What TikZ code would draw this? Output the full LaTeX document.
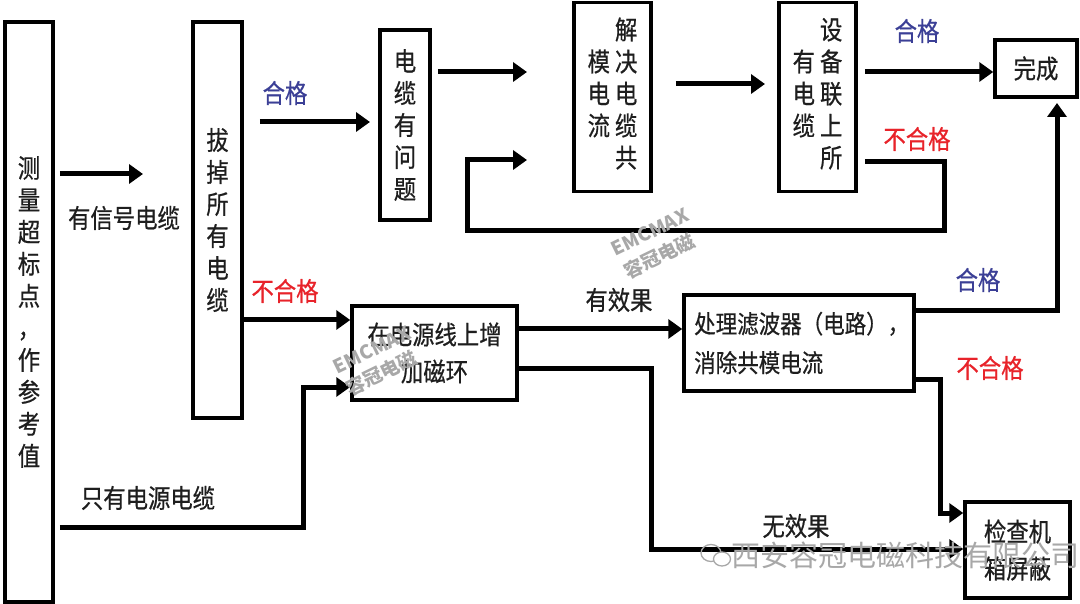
\documentclass[tikz,border=0pt]{standalone}
\usepackage{fontspec}
\newfontfamily\cjk[FakeStretch=0.86,FakeBold=0.6]{Noto Sans CJK SC}
\newfontfamily\cjkwm{Noto Sans CJK SC}
\usetikzlibrary{arrows.meta}
\definecolor{okblue}{HTML}{3B3F96}
\definecolor{badred}{HTML}{E8232A}
\definecolor{ink}{HTML}{1E1E1E}
\definecolor{wm}{HTML}{A8A8A8}
\tikzset{
  box/.style={draw=black, line width=3.5pt, inner sep=0pt, text=ink, align=center,
    font=\cjk\fontsize{26}{32}\selectfont},
  flow/.style={line width=5pt, draw=black, -{Triangle[length=14pt,width=19pt]}},
  lbl/.style={inner sep=0pt, text=ink, font=\cjk\fontsize{26}{30}\selectfont},
  ok/.style={lbl, text=okblue},
  bad/.style={lbl, text=badred},
  wmark/.style={inner sep=0pt, text=wm, font=\cjkwm\bfseries\fontsize{19}{21}\selectfont, rotate=26},
}
\begin{document}
\begin{tikzpicture}[x=1pt,y=-1pt]
\useasboundingbox[fill=white] (0,0) rectangle (1080,604);

% boxes
\node[box, minimum width=48pt, minimum height=580pt] (A) at (29,312)
  {测\\量\\超\\标\\点\\，\\作\\参\\考\\值};
\node[box, minimum width=49pt, minimum height=396pt] (B) at (217.5,220)
  {拔\\掉\\所\\有\\电\\缆};
\node[box, minimum width=50pt, minimum height=190pt] (C) at (405,125)
  {电\\缆\\有\\问\\题};
\node[box, minimum width=77pt, minimum height=189pt] (D) at (612.5,97)
  {\begin{tabular}{@{}c@{\hspace{5pt}}c@{}} & 解\\ 模 & 决\\ 电 & 电\\ 流 & 缆\\ & 共\end{tabular}};
\node[box, minimum width=77pt, minimum height=189pt] (E) at (817.5,97)
  {\begin{tabular}{@{}c@{\hspace{5pt}}c@{}} & 设\\ 有 & 备\\ 电 & 联\\ 缆 & 上\\ & 所\end{tabular}};
\node[box, minimum width=82pt, minimum height=57pt, font=\cjk\fontsize{26}{30}\selectfont] (F) at (1036,68.5) {完成};
\node[box, minimum width=165pt, minimum height=94pt, font=\cjk\fontsize{26}{37}\selectfont] (G) at (434.5,353)
  {在电源线上增\\加磁环};
\node[box, minimum width=230pt, minimum height=96pt] (H) at (799,343) {};
\node[inner sep=0pt, anchor=west, align=left, text=ink, font=\cjk\fontsize{25}{39}\selectfont] (Ht) at (694,343)
  {处理滤波器（电路），\\消除共模电流};
\node[box, minimum width=105pt, minimum height=96pt, font=\cjk\fontsize{26}{37}\selectfont] (I) at (1017.5,550)
  {检查机\\箱屏蔽};

% connectors
\draw[flow] (A.east |- 0,174) ++(5,0) -- (143,174);
\draw[flow] (B.east |- 0,122) ++(16,0) -- (370,122);
\draw[flow] (C.east |- 0,72) ++(6,0) -- (527,72);
\draw[flow] (D.east |- 0,84) ++(23,0) -- (765,84);
\draw[flow] (E.east |- 0,72) ++(7,0) -- (F.west |- 0,72);
\draw[flow] (E.east |- 0,162) ++(7,0) -- (944,162) -- (944,231) -- (467,231) -- (467,160) -- (527,160);
\draw[flow] (B.east |- 0,320) -- (G.west |- 0,320);
\draw[flow] (A.east |- 0,527) ++(5,0) -- (303,527) -- (303,387) -- (G.west |- 0,387);
\draw[flow] (G.east |- 0,329) -- (H.west |- 0,329);
\draw[flow] (G.east |- 0,368) -- (651,368) -- (651,549) -- (I.west |- 0,549);
\draw[flow] (H.east |- 0,311) -- (1057,311) -- (1057,103);
\draw[flow] (H.east |- 0,379) -- (940,379) -- (940,513) -- (I.west |- 0,513);

% labels
\node[lbl] (l1) at (124,218) {有信号电缆};
\node[ok]  (l2) at (285,93) {合格};
\node[ok]  (l3) at (917,31) {合格};
\node[bad] (l4) at (917,139) {不合格};
\node[bad] (l5) at (285,291) {不合格};
\node[lbl] (l6) at (148,498) {只有电源电缆};
\node[lbl] (l7) at (619,300) {有效果};
\node[lbl] (l8) at (796,526) {无效果};
\node[ok]  (l9) at (978,280) {合格};
\node[bad] (l10) at (990,368) {不合格};

% watermarks
\node[wmark] (w1) at (650,232) {EMCMAX};
\node[wmark] (w2) at (659,256) {容冠电磁};
\node[wmark] (w3) at (372,350) {EMCMAX};
\node[wmark] (w4) at (381,373) {容冠电磁};
\draw[wm, line width=1.3pt] (711,553) ellipse (10pt and 8.5pt);
\draw[wm, line width=1.3pt, fill=white] (722,559) ellipse (8.5pt and 7pt);
\node[inner sep=0pt, anchor=west, text=wm, font=\cjkwm\fontsize{29}{31}\selectfont] (w5) at (731,555)
  {西安容冠电磁科技有限公司};
\end{tikzpicture}
\end{document}
